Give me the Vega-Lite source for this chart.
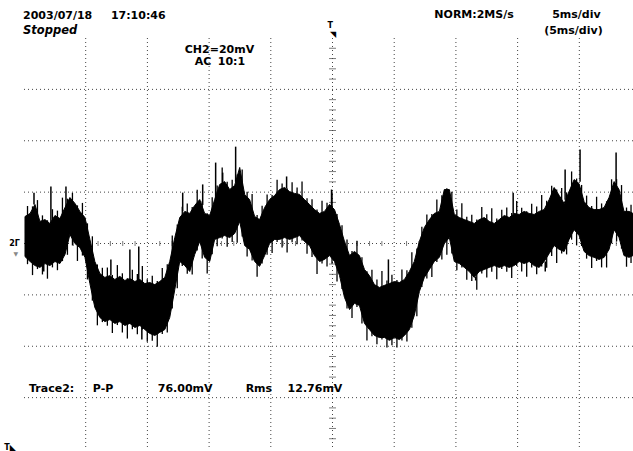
{
 "$schema": "https://vega.github.io/schema/vega-lite/v6.json",
 "width": 609,
 "height": 411,
 "autosize": {"type": "none"},
 "padding": {"left": 24, "top": 38, "right": 0, "bottom": 2},
 "background": "white",
 "config": {"view": {"stroke": null}, "text": {"font": "DejaVu Sans", "fontSize": 11, "color": "black", "align": "left", "baseline": "alphabetic"}},
 "datasets": {
  "wave": [
   {"t":-24.92,"hi":10.5,"lo":-5.1},{"t":-24.51,"hi":11.7,"lo":-7.0},{"t":-24.11,"hi":15.2,"lo":-8.6},{"t":-23.71,"hi":8.6,"lo":-9.3},
   {"t":-23.30,"hi":9.3,"lo":-7.8},{"t":-22.90,"hi":7.8,"lo":-8.6},{"t":-22.49,"hi":10.9,"lo":-7.0},{"t":-22.09,"hi":9.7,"lo":-7.8},
   {"t":-21.68,"hi":14.0,"lo":-4.3},{"t":-21.28,"hi":17.9,"lo":3.5},{"t":-20.87,"hi":15.6,"lo":0},{"t":-20.47,"hi":12.5,"lo":-1.6},
   {"t":-20.06,"hi":10.1,"lo":-5.4},{"t":-19.66,"hi":1.6,"lo":-15.6},{"t":-19.26,"hi":-7.0,"lo":-24.9},{"t":-18.85,"hi":-11.7,"lo":-28.8},
   {"t":-18.45,"hi":-13.2,"lo":-30.4},{"t":-18.04,"hi":-12.5,"lo":-29.6},{"t":-17.64,"hi":-14.0,"lo":-31.1},{"t":-17.23,"hi":-12.8,"lo":-30.4},
   {"t":-16.83,"hi":-14.4,"lo":-31.9},{"t":-16.42,"hi":-13.6,"lo":-31.1},{"t":-16.02,"hi":-14.8,"lo":-32.7},{"t":-15.61,"hi":-14.0,"lo":-31.9},
   {"t":-15.21,"hi":-15.6,"lo":-33.5},{"t":-14.81,"hi":-15.2,"lo":-35.0},{"t":-14.40,"hi":-16.0,"lo":-35.8},{"t":-14.00,"hi":-14.8,"lo":-34.6},
   {"t":-13.59,"hi":-13.2,"lo":-33.5},{"t":-13.19,"hi":-7.0,"lo":-28.8},{"t":-12.78,"hi":2.3,"lo":-17.9},{"t":-12.38,"hi":10.1,"lo":-7.0},
   {"t":-11.97,"hi":12.5,"lo":-8.6},{"t":-11.57,"hi":11.7,"lo":-10.9},{"t":-11.17,"hi":14.8,"lo":-4.3},{"t":-10.76,"hi":17.1,"lo":0.8},
   {"t":-10.36,"hi":11.7,"lo":-5.4},{"t":-9.95,"hi":10.9,"lo":-7.0},{"t":-9.55,"hi":17.1,"lo":1.6},{"t":-9.14,"hi":23.0,"lo":2.3},
   {"t":-8.74,"hi":24.1,"lo":3.1},{"t":-8.33,"hi":21.0,"lo":2.3},{"t":-7.93,"hi":22.6,"lo":3.9},{"t":-7.52,"hi":29.6,"lo":8.6},
   {"t":-7.12,"hi":19.1,"lo":-0.8},{"t":-6.72,"hi":17.1,"lo":-2.3},{"t":-6.31,"hi":10.5,"lo":-7.0},{"t":-5.91,"hi":9.3,"lo":-8.9},
   {"t":-5.50,"hi":14.0,"lo":-4.7},{"t":-5.10,"hi":17.1,"lo":0},{"t":-4.69,"hi":18.7,"lo":1.6},{"t":-4.29,"hi":21.0,"lo":1.6},
   {"t":-3.88,"hi":21.8,"lo":2.3},{"t":-3.48,"hi":20.2,"lo":1.6},{"t":-3.07,"hi":19.5,"lo":2.3},{"t":-2.67,"hi":19.1,"lo":3.1},
   {"t":-2.27,"hi":17.1,"lo":0.8},{"t":-1.86,"hi":15.2,"lo":-0.8},{"t":-1.46,"hi":13.2,"lo":-4.7},{"t":-1.05,"hi":11.7,"lo":-7.0},
   {"t":-0.65,"hi":12.5,"lo":-6.2},{"t":-0.24,"hi":15.2,"lo":-4.7},{"t":0.16,"hi":13.2,"lo":-7.0},{"t":0.57,"hi":7.4,"lo":-12.5},
   {"t":0.97,"hi":0.8,"lo":-21.0},{"t":1.38,"hi":-4.7,"lo":-25.7},{"t":1.78,"hi":-3.1,"lo":-23.3},{"t":2.18,"hi":-4.7,"lo":-24.1},
   {"t":2.59,"hi":-10.1,"lo":-31.1},{"t":2.99,"hi":-12.5,"lo":-33.5},{"t":3.40,"hi":-16.0,"lo":-35.8},{"t":3.80,"hi":-17.1,"lo":-36.6},
   {"t":4.21,"hi":-16.3,"lo":-36.6},{"t":4.61,"hi":-15.6,"lo":-37.7},{"t":5.02,"hi":-14.8,"lo":-36.6},{"t":5.42,"hi":-15.2,"lo":-37.4},
   {"t":5.83,"hi":-14.0,"lo":-35.8},{"t":6.23,"hi":-10.9,"lo":-33.5},{"t":6.63,"hi":-7.0,"lo":-28.0},{"t":7.04,"hi":0.8,"lo":-18.7},
   {"t":7.44,"hi":6.2,"lo":-13.2},{"t":7.85,"hi":9.3,"lo":-10.1},{"t":8.25,"hi":11.7,"lo":-7.0},{"t":8.66,"hi":12.5,"lo":-5.4},
   {"t":9.06,"hi":21.0,"lo":0},{"t":9.47,"hi":21.0,"lo":2.3},{"t":9.87,"hi":11.3,"lo":-7.0},{"t":10.28,"hi":10.1,"lo":-7.8},
   {"t":10.68,"hi":9.3,"lo":-9.3},{"t":11.08,"hi":8.6,"lo":-10.9},{"t":11.49,"hi":7.8,"lo":-13.2},{"t":11.89,"hi":9.3,"lo":-10.9},
   {"t":12.30,"hi":10.1,"lo":-10.1},{"t":12.70,"hi":8.6,"lo":-9.3},{"t":13.11,"hi":7.8,"lo":-8.6},{"t":13.51,"hi":9.3,"lo":-9.3},
   {"t":13.92,"hi":10.9,"lo":-8.6},{"t":14.32,"hi":10.1,"lo":-9.3},{"t":14.72,"hi":11.7,"lo":-8.6},{"t":15.13,"hi":11.3,"lo":-7.0},
   {"t":15.53,"hi":12.5,"lo":-7.8},{"t":15.94,"hi":11.7,"lo":-7.0},{"t":16.34,"hi":11.3,"lo":-8.6},{"t":16.75,"hi":12.5,"lo":-9.3},
   {"t":17.15,"hi":13.2,"lo":-7.0},{"t":17.56,"hi":17.1,"lo":-3.9},{"t":17.96,"hi":21.8,"lo":-0.8},{"t":18.37,"hi":18.7,"lo":-2.3},
   {"t":18.77,"hi":15.6,"lo":-3.1},{"t":19.17,"hi":20.2,"lo":1.6},{"t":19.58,"hi":24.9,"lo":5.4},{"t":19.98,"hi":23.3,"lo":3.1},
   {"t":20.39,"hi":16.3,"lo":-3.1},{"t":20.79,"hi":14.0,"lo":-4.7},{"t":21.20,"hi":13.2,"lo":-5.4},{"t":21.60,"hi":13.2,"lo":-6.2},
   {"t":22.01,"hi":14.0,"lo":-5.4},{"t":22.41,"hi":17.9,"lo":-2.3},{"t":22.82,"hi":24.1,"lo":5.4},{"t":23.22,"hi":21.0,"lo":2.3},
   {"t":23.62,"hi":12.5,"lo":-4.7},{"t":24.03,"hi":12.5,"lo":-5.4},{"t":24.35,"hi":11.7,"lo":-4.7}
  ],
  "noise": [
   {"t":-24.715,"a":-8.05,"b":14.6},{"t":-24.31,"a":-12.3,"b":14.45},{"t":-23.91,"a":-9.95,"b":16.9},{"t":-23.505,"a":-12.05,"b":10.95},
   {"t":-23.10,"a":-13.7,"b":9.05},{"t":-22.695,"a":-9.3,"b":13.35},{"t":-22.29,"a":-10.4,"b":12.8},{"t":-21.885,"a":-6.85,"b":17.85},
   {"t":-21.48,"a":-4.4,"b":17.45},{"t":-21.075,"a":-0.75,"b":19.75},{"t":-20.67,"a":-6.8,"b":14.85},{"t":-20.265,"a":-4.7,"b":15.8},
   {"t":-19.86,"a":-14.0,"b":7.85},{"t":-19.46,"a":-22.25,"b":2.8},{"t":-19.055,"a":-31.85,"b":-8.15},{"t":-18.65,"a":-30.6,"b":-9.45},
   {"t":-18.245,"a":-32.0,"b":-9.35},{"t":-17.84,"a":-34.85,"b":-12.25},{"t":-17.435,"a":-31.75,"b":-8.4},{"t":-17.03,"a":-34.65,"b":-11.6},
   {"t":-16.625,"a":-37.0,"b":-13.5},{"t":-16.22,"a":-33.4,"b":-10.2},{"t":-15.815,"a":-35.3,"b":-11.9},{"t":-15.41,"a":-33.5,"b":-8.8},
   {"t":-15.01,"a":-38.25,"b":-13.9},{"t":-14.605,"a":-37.9,"b":-12.6},{"t":-14.20,"a":-40.2,"b":-14.6},{"t":-13.795,"a":-35.25,"b":-9.5},
   {"t":-13.39,"a":-34.65,"b":-8.1},{"t":-12.985,"a":-25.35,"b":3.15},{"t":-12.58,"a":-17.45,"b":7.4},{"t":-12.175,"a":-8.8,"b":14.3},
   {"t":-11.77,"a":-11.75,"b":15.6},{"t":-11.37,"a":-12.1,"b":14.25},{"t":-10.965,"a":-2.75,"b":20.95},{"t":-10.56,"a":-5.8,"b":16.4},
   {"t":-10.155,"a":-11.7,"b":11.8},{"t":-9.75,"a":-4.2,"b":18.0},{"t":-9.345,"a":-1.05,"b":22.55},{"t":-8.94,"a":1.9,"b":29.55},
   {"t":-8.535,"a":-1.3,"b":24.05},{"t":-8.13,"a":0.6,"b":24.8},{"t":-7.725,"a":0.25,"b":26.9},{"t":-7.32,"a":2.7,"b":28.85},
   {"t":-6.92,"a":-5.05,"b":20.1},{"t":-6.515,"a":-6.65,"b":19.3},{"t":-6.11,"a":-12.95,"b":11.1},{"t":-5.705,"a":-7.8,"b":14.65},
   {"t":-5.30,"a":-4.35,"b":19.05},{"t":-4.895,"a":-3.7,"b":18.9},{"t":-4.49,"a":0.6,"b":24.85},{"t":-4.085,"a":-1.55,"b":23.4},
   {"t":-3.68,"a":-3.55,"b":21.5},{"t":-3.275,"a":0.45,"b":23.85},{"t":-2.87,"a":-0.3,"b":21.8},{"t":-2.47,"a":1.15,"b":24.1},
   {"t":-2.065,"a":-4.0,"b":17.65},{"t":-1.66,"a":-5.25,"b":17.2},{"t":-1.255,"a":-11.85,"b":13.25},{"t":-0.85,"a":-7.8,"b":16.6},
   {"t":-0.445,"a":-8.95,"b":15.85},{"t":-0.04,"a":-7.85,"b":19.7},{"t":0.365,"a":-14.75,"b":11.5},{"t":0.77,"a":-17.75,"b":7.1},
   {"t":1.175,"a":-25.35,"b":1.55},{"t":1.58,"a":-29.0,"b":-2.9},{"t":1.98,"a":-24.7,"b":1.1},{"t":2.385,"a":-31.1,"b":-5.4},
   {"t":2.79,"a":-37.8,"b":-10.8},{"t":3.195,"a":-36.15,"b":-10.25},{"t":3.60,"a":-39.2,"b":-14.05},{"t":4.005,"a":-37.4,"b":-10.7},
   {"t":4.41,"a":-40.5,"b":-14.45},{"t":4.815,"a":-39.65,"b":-12.2},{"t":5.22,"a":-40.5,"b":-14.2},{"t":5.625,"a":-37.8,"b":-10.1},
   {"t":6.03,"a":-38.15,"b":-10.45},{"t":6.43,"a":-32.75,"b":-3.45},{"t":6.835,"a":-28.35,"b":-1.9},{"t":7.24,"a":-16.95,"b":6.5},
   {"t":7.645,"a":-13.65,"b":11.25},{"t":8.05,"a":-13.05,"b":11.5},{"t":8.455,"a":-7.2,"b":17.1},{"t":8.86,"a":-6.2,"b":18.75},
   {"t":9.265,"a":-4.35,"b":21.5},{"t":9.67,"a":-3.85,"b":20.15},{"t":10.075,"a":-10.4,"b":13.2},{"t":10.48,"a":-9.35,"b":15.7},
   {"t":10.88,"a":-14.1,"b":10.45},{"t":11.285,"a":-14.55,"b":11.2},{"t":11.69,"a":-18.05,"b":9.35},{"t":12.095,"a":-11.7,"b":14.2},
   {"t":12.50,"a":-13.2,"b":11.35},{"t":12.905,"a":-10.95,"b":13.7},{"t":13.31,"a":-13.95,"b":9.75},{"t":13.715,"a":-9.95,"b":13.1},
   {"t":14.12,"a":-10.95,"b":14.0},{"t":14.52,"a":-13.45,"b":11.9},{"t":14.925,"a":-8.8,"b":16.5},{"t":15.33,"a":-10.9,"b":13.9},
   {"t":15.735,"a":-12.9,"b":12.6},{"t":16.14,"a":-9.3,"b":15.5},{"t":16.545,"a":-11.95,"b":14.4},{"t":16.95,"a":-8.95,"b":18.85},
   {"t":17.355,"a":-9.45,"b":16.65},{"t":17.76,"a":-4.85,"b":22.45},{"t":18.165,"a":-7.55,"b":21.05},{"t":18.57,"a":-3.9,"b":21.65},
   {"t":18.97,"a":-4.25,"b":19.9},{"t":19.375,"a":1.5,"b":28.05},{"t":19.78,"a":-0.75,"b":25.3},{"t":20.185,"a":-1.0,"b":22.8},
   {"t":20.59,"a":-5.9,"b":18.65},{"t":21.0,"a":-9.55,"b":14.6},{"t":21.40,"a":-6.8,"b":18.2},{"t":21.805,"a":-9.3,"b":15.6},
   {"t":22.21,"a":-9.35,"b":16.45},{"t":22.615,"a":0.05,"b":25.0},{"t":23.02,"a":0.85,"b":25.05},{"t":23.42,"a":-2.0,"b":22.75},
   {"t":23.825,"a":-9.05,"b":14.0},{"t":24.19,"a":-7.55,"b":15.1}
  ],
  "spikes": [
   {"t":-24.19,"a":15.2,"b":19.8},{"t":-22.82,"a":8.0,"b":22.2},{"t":-21.60,"a":14.0,"b":22.2},{"t":-23.40,"a":-8.0,"b":-10.9},
   {"t":-17.96,"a":-12.5,"b":-6.2},{"t":-16.42,"a":-13.6,"b":-2.3},{"t":-15.70,"a":-14.5,"b":-1.2},{"t":-15.45,"a":-32.0,"b":-37.4},
   {"t":-12.14,"a":12.5,"b":19.8},{"t":-10.52,"a":15.0,"b":23.0},{"t":-9.47,"a":17.0,"b":31.5},{"t":-8.90,"a":22.0,"b":27.6},
   {"t":-7.85,"a":24.0,"b":37.7},{"t":-3.72,"a":21.5,"b":26.1},{"t":-0.08,"a":14.0,"b":21.0},{"t":4.53,"a":-16.0,"b":-6.2},
   {"t":14.64,"a":11.5,"b":19.8},{"t":18.85,"a":17.0,"b":28.8},{"t":20.06,"a":24.0,"b":36.6},{"t":22.98,"a":22.0,"b":35.4},
   {"t":11.60,"a":-13.0,"b":-14.4},{"t":17.24,"a":-7.0,"b":-10.9}
  ],
  "vgrid": [{"t":-20},{"t":-15},{"t":-10},{"t":-5},{"t":0},{"t":5},{"t":10},{"t":15},{"t":20}],
  "hgrid": [{"v":-60},{"v":-40},{"v":-20},{"v":0},{"v":20},{"v":40},{"v":60}],
  "xminor": [
   {"t":-24,"v":0},{"t":-23,"v":0},{"t":-22,"v":0},{"t":-21,"v":0},{"t":-19,"v":0},{"t":-18,"v":0},{"t":-17,"v":0},{"t":-16,"v":0},
   {"t":-14,"v":0},{"t":-13,"v":0},{"t":-12,"v":0},{"t":-11,"v":0},{"t":-9,"v":0},{"t":-8,"v":0},{"t":-7,"v":0},{"t":-6,"v":0},
   {"t":-4,"v":0},{"t":-3,"v":0},{"t":-2,"v":0},{"t":-1,"v":0},{"t":1,"v":0},{"t":2,"v":0},{"t":3,"v":0},{"t":4,"v":0},
   {"t":6,"v":0},{"t":7,"v":0},{"t":8,"v":0},{"t":9,"v":0},{"t":11,"v":0},{"t":12,"v":0},{"t":13,"v":0},{"t":14,"v":0},
   {"t":16,"v":0},{"t":17,"v":0},{"t":18,"v":0},{"t":19,"v":0},{"t":21,"v":0},{"t":22,"v":0},{"t":23,"v":0},{"t":24,"v":0}
  ],
  "yminor": [
   {"t":0,"v":-76},{"t":0,"v":-72},{"t":0,"v":-68},{"t":0,"v":-64},{"t":0,"v":-56},{"t":0,"v":-52},{"t":0,"v":-48},{"t":0,"v":-44},
   {"t":0,"v":-36},{"t":0,"v":-32},{"t":0,"v":-28},{"t":0,"v":-24},{"t":0,"v":-16},{"t":0,"v":-12},{"t":0,"v":-8},{"t":0,"v":-4},
   {"t":0,"v":4},{"t":0,"v":8},{"t":0,"v":12},{"t":0,"v":16},{"t":0,"v":24},{"t":0,"v":28},{"t":0,"v":32},{"t":0,"v":36},
   {"t":0,"v":44},{"t":0,"v":48},{"t":0,"v":52},{"t":0,"v":56},{"t":0,"v":64},{"t":0,"v":68},{"t":0,"v":72},{"t":0,"v":76}
  ],
  "labels": [
   {"t":-25.08,"v":87.5,"text":"2003/07/18"},
   {"t":-17.96,"v":87.5,"text":"17:10:46"},
   {"t":-11.97,"v":74.3,"text":"CH2=20mV"},
   {"t":-11.16,"v":69.3,"text":"AC"},
   {"t":-9.30,"v":69.3,"text":"10:1"},
   {"t":8.25,"v":87.9,"text":"NORM:2MS/s"},
   {"t":17.80,"v":87.9,"text":"5ms/div"},
   {"t":17.15,"v":81.7,"text":"(5ms/div)"},
   {"t":-24.59,"v":-58.0,"text":"Trace2:"},
   {"t":-19.42,"v":-58.0,"text":"P-P"},
   {"t":-14.16,"v":-58.0,"text":"76.00mV"},
   {"t":-7.04,"v":-58.0,"text":"Rms"},
   {"t":-3.64,"v":-58.0,"text":"12.76mV"}
  ],
  "italic": [{"t":-25.08,"v":81.7,"text":"Stopped"}],
  "markers": [
   {"t":-26.2,"v":-0.8,"text":"2Γ"},
   {"t":-0.4,"v":83.8,"text":"T"},
   {"t":-0.2,"v":80.4,"text":"◥"},
   {"t":-26.6,"v":-80.3,"text":"T◣"}
  ],
  "gnd": [{"t":-25.85,"v":-5.0,"text":"▼"}]
 },
 "layer": [
  {
   "data": {"name": "vgrid"},
   "mark": {"type": "rule", "color": "#444", "strokeWidth": 1, "strokeDash": [1, 3]},
   "encoding": {"x": {"field": "t", "type": "quantitative", "scale": {"domain": [-25, 24.35], "nice": false, "zero": false}, "axis": null}}
  },
  {
   "data": {"name": "hgrid"},
   "mark": {"type": "rule", "color": "#444", "strokeWidth": 1, "strokeDash": [1, 3]},
   "encoding": {"y": {"field": "v", "type": "quantitative", "scale": {"domain": [-80, 80], "nice": false, "zero": false}, "axis": null}}
  },
  {
   "data": {"name": "xminor"},
   "mark": {"type": "tick", "orient": "vertical", "size": 5, "thickness": 1, "color": "#444"},
   "encoding": {
    "x": {"field": "t", "type": "quantitative", "scale": {"domain": [-25, 24.35], "nice": false, "zero": false}, "axis": null},
    "y": {"field": "v", "type": "quantitative", "scale": {"domain": [-80, 80], "nice": false, "zero": false}, "axis": null}
   }
  },
  {
   "data": {"name": "yminor"},
   "mark": {"type": "tick", "orient": "horizontal", "size": 7, "thickness": 1, "color": "#444"},
   "encoding": {
    "x": {"field": "t", "type": "quantitative", "scale": {"domain": [-25, 24.35], "nice": false, "zero": false}, "axis": null},
    "y": {"field": "v", "type": "quantitative", "scale": {"domain": [-80, 80], "nice": false, "zero": false}, "axis": null}
   }
  },
  {
   "data": {"name": "wave"},
   "mark": {"type": "area", "color": "black", "stroke": "black", "strokeWidth": 1},
   "encoding": {
    "x": {"field": "t", "type": "quantitative", "scale": {"domain": [-25, 24.35], "nice": false, "zero": false}, "axis": null},
    "y": {"field": "hi", "type": "quantitative", "scale": {"domain": [-80, 80], "nice": false, "zero": false}, "axis": null},
    "y2": {"field": "lo"}
   }
  },
  {
   "data": {"name": "noise"},
   "mark": {"type": "rule", "color": "black", "strokeWidth": 1.3},
   "encoding": {
    "x": {"field": "t", "type": "quantitative", "scale": {"domain": [-25, 24.35], "nice": false, "zero": false}, "axis": null},
    "y": {"field": "a", "type": "quantitative", "scale": {"domain": [-80, 80], "nice": false, "zero": false}, "axis": null},
    "y2": {"field": "b"}
   }
  },
  {
   "data": {"name": "spikes"},
   "mark": {"type": "rule", "color": "black", "strokeWidth": 1.5},
   "encoding": {
    "x": {"field": "t", "type": "quantitative", "scale": {"domain": [-25, 24.35], "nice": false, "zero": false}, "axis": null},
    "y": {"field": "a", "type": "quantitative", "scale": {"domain": [-80, 80], "nice": false, "zero": false}, "axis": null},
    "y2": {"field": "b"}
   }
  },
  {
   "mark": {"type": "rule", "color": "#333", "strokeWidth": 2},
   "encoding": {"x": {"datum": -25.03, "type": "quantitative", "scale": {"domain": [-25, 24.35], "nice": false, "zero": false}, "axis": null}}
  },
  {
   "mark": {"type": "rule", "color": "black", "strokeWidth": 1.5},
   "encoding": {"y": {"datum": 79.9, "type": "quantitative", "scale": {"domain": [-80, 80], "nice": false, "zero": false}, "axis": null}}
  },
  {
   "mark": {"type": "rule", "color": "#555", "strokeWidth": 2},
   "encoding": {"y": {"datum": -80.2, "type": "quantitative", "scale": {"domain": [-80, 80], "nice": false, "zero": false}, "axis": null}}
  },
  {
   "data": {"name": "labels"},
   "mark": {"type": "text", "fontSize": 11, "fontWeight": "bold"},
   "encoding": {
    "x": {"field": "t", "type": "quantitative", "scale": {"domain": [-25, 24.35], "nice": false, "zero": false}, "axis": null},
    "y": {"field": "v", "type": "quantitative", "scale": {"domain": [-80, 80], "nice": false, "zero": false}, "axis": null},
    "text": {"field": "text", "type": "nominal"}
   }
  },
  {
   "data": {"name": "italic"},
   "mark": {"type": "text", "fontSize": 11.5, "fontWeight": "bold", "fontStyle": "italic"},
   "encoding": {
    "x": {"field": "t", "type": "quantitative", "scale": {"domain": [-25, 24.35], "nice": false, "zero": false}, "axis": null},
    "y": {"field": "v", "type": "quantitative", "scale": {"domain": [-80, 80], "nice": false, "zero": false}, "axis": null},
    "text": {"field": "text", "type": "nominal"}
   }
  },
  {
   "data": {"name": "markers"},
   "mark": {"type": "text", "fontSize": 8, "fontWeight": "bold"},
   "encoding": {
    "x": {"field": "t", "type": "quantitative", "scale": {"domain": [-25, 24.35], "nice": false, "zero": false}, "axis": null},
    "y": {"field": "v", "type": "quantitative", "scale": {"domain": [-80, 80], "nice": false, "zero": false}, "axis": null},
    "text": {"field": "text", "type": "nominal"}
   }
  },
  {
   "data": {"name": "gnd"},
   "mark": {"type": "text", "fontSize": 6, "color": "#888"},
   "encoding": {
    "x": {"field": "t", "type": "quantitative", "scale": {"domain": [-25, 24.35], "nice": false, "zero": false}, "axis": null},
    "y": {"field": "v", "type": "quantitative", "scale": {"domain": [-80, 80], "nice": false, "zero": false}, "axis": null},
    "text": {"field": "text", "type": "nominal"}
   }
  }
 ]
}
